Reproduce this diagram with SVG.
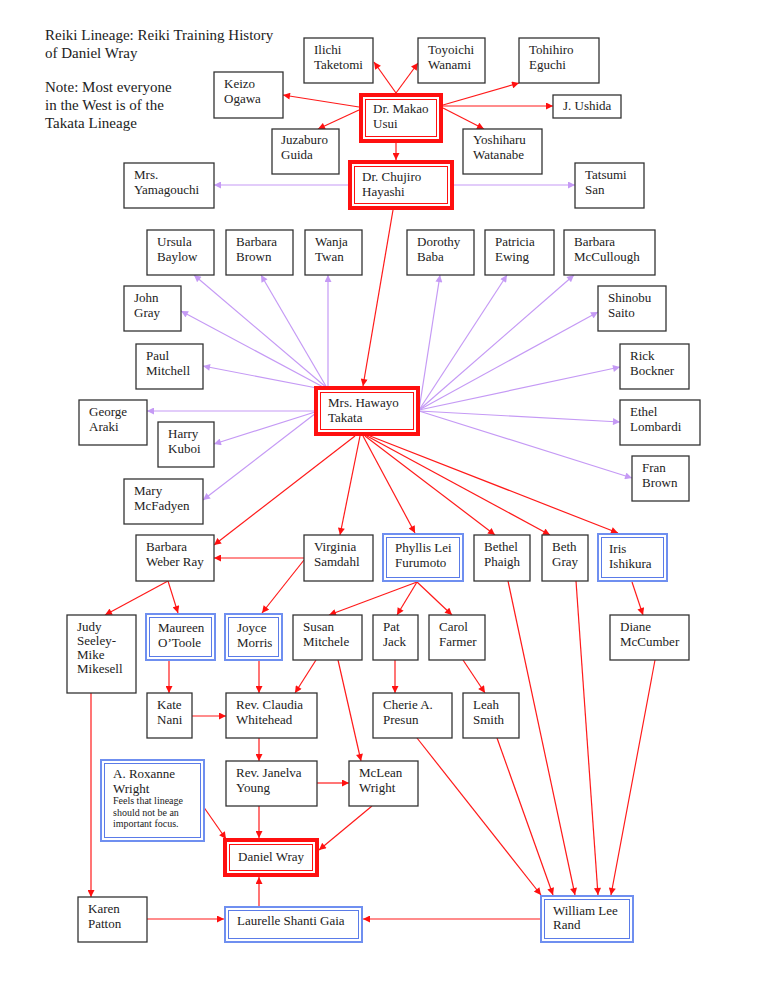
<svg xmlns="http://www.w3.org/2000/svg" width="768" height="994" viewBox="0 0 768 994">
<defs>
<marker id="ar" viewBox="0 0 10 10" refX="10" refY="5" markerWidth="8" markerHeight="7" orient="auto" markerUnits="userSpaceOnUse"><path d="M0,0 L10,5 L0,10 z" fill="#ff1010"/></marker>
<marker id="ap" viewBox="0 0 10 10" refX="10" refY="5" markerWidth="8" markerHeight="7" orient="auto" markerUnits="userSpaceOnUse"><path d="M0,0 L10,5 L0,10 z" fill="#c59af5"/></marker>
</defs>
<style>
text{font-family:"Liberation Serif","Times New Roman",serif;font-size:13px;fill:#222}
.t{font-size:15px}
.s{font-size:10px}
.b{fill:#fff;stroke:#333;stroke-width:1.3}
.ro{fill:#fff;stroke:#ff1010;stroke-width:4}
.ri{fill:none;stroke:#ff1010;stroke-width:1}
.bo{fill:#fff;stroke:#6f8ff0;stroke-width:2}
.bi{fill:none;stroke:#5a7be8;stroke-width:1}
.r path{fill:none;stroke:#ff1a1a;stroke-width:1.2;marker-end:url(#ar)}
.p path{fill:none;stroke:#c59af5;stroke-width:1.2;marker-end:url(#ap)}
</style>
<rect width="768" height="994" fill="#fff"/>
<g id="title">
<text class="t" x="45" y="40">Reiki Lineage: Reiki Training History</text>
<text class="t" x="45" y="58">of Daniel Wray</text>
<text class="t" x="45" y="92">Note: Most everyone</text>
<text class="t" x="45" y="110">in the West is of the</text>
<text class="t" x="45" y="128">Takata Lineage</text>
</g>
<g id="connectors">
<g class="r">
<path d="M396,93 L374,62"/>
<path d="M396,93 L418,63"/>
<path d="M359,107 L283,95"/>
<path d="M359,110 L318,129"/>
<path d="M443,105 L519,83"/>
<path d="M443,106 L553,106"/>
<path d="M443,108 L484,129"/>
<path d="M396,143 L396,160"/>
<path d="M393,210 L363,386"/>
<path d="M355,436 L214,545"/>
<path d="M360,436 L340,535"/>
<path d="M363,436 L415,533"/>
<path d="M365,436 L495,535"/>
<path d="M367,436 L550,535"/>
<path d="M370,436 L618,533"/>
<path d="M168,581 L105,615"/>
<path d="M168,581 L178,613"/>
<path d="M304,558 L214,558"/>
<path d="M304,560 L262,613"/>
<path d="M417,582 L329,615"/>
<path d="M417,582 L397,615"/>
<path d="M417,582 L452,615"/>
<path d="M632,582 L643,615"/>
<path d="M169,661 L169,693"/>
<path d="M259,661 L259,693"/>
<path d="M316,660 L295,693"/>
<path d="M338,660 L361,761"/>
<path d="M395,660 L395,693"/>
<path d="M463,660 L485,693"/>
<path d="M192,716 L226,716"/>
<path d="M259,738 L259,761"/>
<path d="M317,783 L349,783"/>
<path d="M259,806 L259,838"/>
<path d="M372,806 L319,850"/>
<path d="M203,806 L226,839"/>
<path d="M91,693 L91,897"/>
<path d="M147,919 L224,919"/>
<path d="M259,906 L259,877"/>
<path d="M540,919 L363,919"/>
<path d="M417,738 L541,895"/>
<path d="M497,738 L553,895"/>
<path d="M508,581 L575,895"/>
<path d="M576,581 L598,895"/>
<path d="M655,660 L611,895"/>
</g>
<g class="p">
<path d="M348,185 L214,185"/>
<path d="M454,185 L575,185"/>
<path d="M327,388 L194,275"/>
<path d="M327,388 L261,275"/>
<path d="M328,388 L328,275"/>
<path d="M325,388 L181,311"/>
<path d="M322,389 L203,366"/>
<path d="M315,411 L147,411"/>
<path d="M315,412 L214,444"/>
<path d="M316,413 L203,500"/>
<path d="M419,410 L440,275"/>
<path d="M419,410 L507,275"/>
<path d="M419,410 L574,275"/>
<path d="M419,410 L598,312"/>
<path d="M419,410 L620,367"/>
<path d="M419,411 L620,422"/>
<path d="M419,411 L632,478"/>
</g>
</g>
<g id="usui"><rect class="ro" x="361" y="95" width="80" height="46"/><rect class="ri" x="365.5" y="99.5" width="71" height="37"/><text x="373" y="113">Dr. Makao</text><text x="373" y="127.5">Usui</text></g>
<g id="hayashi"><rect class="ro" x="350" y="162" width="102" height="46"/><rect class="ri" x="354.5" y="166.5" width="93" height="37"/><text x="362" y="181">Dr. Chujiro</text><text x="362" y="195.5">Hayashi</text></g>
<g id="takata"><rect class="ro" x="316" y="388" width="102" height="46"/><rect class="ri" x="320.5" y="392.5" width="93" height="37"/><text x="328" y="407">Mrs. Hawayo</text><text x="328" y="421.5">Takata</text></g>
<g id="daniel"><rect class="ro" x="225" y="840" width="92" height="35"/><rect class="ri" x="229.5" y="844.5" width="83" height="26"/><text x="238" y="861">Daniel Wray</text></g>
<g id="ilichi"><rect class="b" x="304" y="38" width="69" height="45"/><text x="314" y="54">Ilichi</text><text x="314" y="68.5">Taketomi</text></g>
<g id="toyoichi"><rect class="b" x="418" y="38" width="67" height="45"/><text x="428" y="54">Toyoichi</text><text x="428" y="68.5">Wanami</text></g>
<g id="eguchi"><rect class="b" x="519" y="38" width="80" height="45"/><text x="529" y="54">Tohihiro</text><text x="529" y="68.5">Eguchi</text></g>
<g id="keizo"><rect class="b" x="214" y="72" width="69" height="46"/><text x="224" y="88">Keizo</text><text x="224" y="102.5">Ogawa</text></g>
<g id="ushida"><rect class="b" x="553" y="95" width="68" height="23"/><text x="563" y="110">J. Ushida</text></g>
<g id="juzaburo"><rect class="b" x="272" y="129" width="67" height="45"/><text x="281" y="144">Juzaburo</text><text x="281" y="158.5">Guida</text></g>
<g id="yoshiharu"><rect class="b" x="463" y="129" width="79" height="45"/><text x="473" y="144">Yoshiharu</text><text x="473" y="158.5">Watanabe</text></g>
<g id="yamagouchi"><rect class="b" x="124" y="163" width="90" height="45"/><text x="134" y="179">Mrs.</text><text x="134" y="193.5">Yamagouchi</text></g>
<g id="tatsumi"><rect class="b" x="575" y="163" width="69" height="45"/><text x="585" y="179">Tatsumi</text><text x="585" y="193.5">San</text></g>
<g id="ursula"><rect class="b" x="147" y="230" width="67" height="45"/><text x="157" y="246">Ursula</text><text x="157" y="260.5">Baylow</text></g>
<g id="bbrown"><rect class="b" x="226" y="230" width="67" height="45"/><text x="236" y="246">Barbara</text><text x="236" y="260.5">Brown</text></g>
<g id="wanja"><rect class="b" x="305" y="230" width="57" height="45"/><text x="315" y="246">Wanja</text><text x="315" y="260.5">Twan</text></g>
<g id="dorothy"><rect class="b" x="407" y="230" width="67" height="45"/><text x="417" y="246">Dorothy</text><text x="417" y="260.5">Baba</text></g>
<g id="patricia"><rect class="b" x="485" y="230" width="69" height="45"/><text x="495" y="246">Patricia</text><text x="495" y="260.5">Ewing</text></g>
<g id="mccullough"><rect class="b" x="564" y="230" width="91" height="45"/><text x="574" y="246">Barbara</text><text x="574" y="260.5">McCullough</text></g>
<g id="john"><rect class="b" x="124" y="286" width="57" height="45"/><text x="134" y="302">John</text><text x="134" y="316.5">Gray</text></g>
<g id="shinobu"><rect class="b" x="598" y="286" width="68" height="45"/><text x="608" y="302">Shinobu</text><text x="608" y="316.5">Saito</text></g>
<g id="paul"><rect class="b" x="136" y="344" width="67" height="45"/><text x="146" y="360">Paul</text><text x="146" y="374.5">Mitchell</text></g>
<g id="rick"><rect class="b" x="620" y="344" width="69" height="45"/><text x="630" y="360">Rick</text><text x="630" y="374.5">Bockner</text></g>
<g id="george"><rect class="b" x="79" y="400" width="68" height="45"/><text x="89" y="416">George</text><text x="89" y="430.5">Araki</text></g>
<g id="ethel"><rect class="b" x="620" y="400" width="80" height="45"/><text x="630" y="416">Ethel</text><text x="630" y="430.5">Lombardi</text></g>
<g id="harry"><rect class="b" x="158" y="422" width="56" height="45"/><text x="168" y="438">Harry</text><text x="168" y="452.5">Kuboi</text></g>
<g id="fran"><rect class="b" x="632" y="456" width="57" height="45"/><text x="642" y="472">Fran</text><text x="642" y="486.5">Brown</text></g>
<g id="mary"><rect class="b" x="124" y="479" width="79" height="45"/><text x="134" y="495">Mary</text><text x="134" y="509.5">McFadyen</text></g>
<g id="weberray"><rect class="b" x="136" y="535" width="78" height="46"/><text x="146" y="551">Barbara</text><text x="146" y="565.5">Weber Ray</text></g>
<g id="virginia"><rect class="b" x="304" y="535" width="69" height="46"/><text x="314" y="551">Virginia</text><text x="314" y="565.5">Samdahl</text></g>
<g id="phyllis"><rect class="bo" x="383" y="534" width="80" height="47"/><rect class="bi" x="386.5" y="537.5" width="73" height="40"/><text x="395" y="552">Phyllis Lei</text><text x="395" y="566.5">Furumoto</text></g>
<g id="bethel"><rect class="b" x="474" y="535" width="56" height="46"/><text x="484" y="551">Bethel</text><text x="484" y="565.5">Phaigh</text></g>
<g id="bethgray"><rect class="b" x="542" y="535" width="46" height="46"/><text x="552" y="551">Beth</text><text x="552" y="565.5">Gray</text></g>
<g id="iris"><rect class="bo" x="598" y="534" width="69" height="47"/><rect class="bi" x="601.5" y="537.5" width="62" height="40"/><text x="609" y="553">Iris</text><text x="609" y="567.5">Ishikura</text></g>
<g id="judy"><rect class="b" x="67" y="615" width="69" height="78"/><text x="77" y="631">Judy</text><text x="77" y="645">Seeley-</text><text x="77" y="659">Mike</text><text x="77" y="673">Mikesell</text></g>
<g id="maureen"><rect class="bo" x="146" y="614" width="69" height="46"/><rect class="bi" x="149.5" y="617.5" width="62" height="39"/><text x="158" y="632">Maureen</text><text x="158" y="646.5">O’Toole</text></g>
<g id="joyce"><rect class="bo" x="225" y="614" width="57" height="46"/><rect class="bi" x="228.5" y="617.5" width="50" height="39"/><text x="237" y="632">Joyce</text><text x="237" y="646.5">Morris</text></g>
<g id="susan"><rect class="b" x="293" y="615" width="69" height="45"/><text x="303" y="631">Susan</text><text x="303" y="645.5">Mitchele</text></g>
<g id="pat"><rect class="b" x="373" y="615" width="45" height="45"/><text x="383" y="631">Pat</text><text x="383" y="645.5">Jack</text></g>
<g id="carol"><rect class="b" x="429" y="615" width="56" height="45"/><text x="439" y="631">Carol</text><text x="439" y="645.5">Farmer</text></g>
<g id="diane"><rect class="b" x="610" y="615" width="79" height="45"/><text x="620" y="631">Diane</text><text x="620" y="645.5">McCumber</text></g>
<g id="kate"><rect class="b" x="147" y="693" width="45" height="45"/><text x="157" y="709">Kate</text><text x="157" y="723.5">Nani</text></g>
<g id="claudia"><rect class="b" x="226" y="693" width="91" height="45"/><text x="236" y="709">Rev. Claudia</text><text x="236" y="723.5">Whitehead</text></g>
<g id="cherie"><rect class="b" x="373" y="693" width="79" height="45"/><text x="383" y="709">Cherie A.</text><text x="383" y="723.5">Presun</text></g>
<g id="leah"><rect class="b" x="463" y="693" width="56" height="45"/><text x="473" y="709">Leah</text><text x="473" y="723.5">Smith</text></g>
<g id="roxanne"><rect class="bo" x="101" y="760" width="103" height="81"/><rect class="bi" x="104.5" y="763.5" width="96" height="74"/><text x="113" y="778">A. Roxanne</text><text x="113" y="792.5">Wright</text><text class="s" x="113" y="804">Feels that lineage</text><text class="s" x="113" y="815.5">should not be an</text><text class="s" x="113" y="827">important focus.</text></g>
<g id="janelva"><rect class="b" x="226" y="761" width="91" height="45"/><text x="236" y="777">Rev. Janelva</text><text x="236" y="791.5">Young</text></g>
<g id="mclean"><rect class="b" x="349" y="761" width="69" height="45"/><text x="359" y="777">McLean</text><text x="359" y="791.5">Wright</text></g>
<g id="karen"><rect class="b" x="78" y="897" width="69" height="45"/><text x="88" y="913">Karen</text><text x="88" y="927.5">Patton</text></g>
<g id="laurelle"><rect class="bo" x="225" y="907" width="137" height="35"/><rect class="bi" x="228.5" y="910.5" width="130" height="28"/><text x="237" y="925">Laurelle Shanti Gaia</text></g>
<g id="william"><rect class="bo" x="541" y="896" width="92" height="46"/><rect class="bi" x="544.5" y="899.5" width="85" height="39"/><text x="553" y="915">William Lee</text><text x="553" y="929">Rand</text></g>
</svg>
